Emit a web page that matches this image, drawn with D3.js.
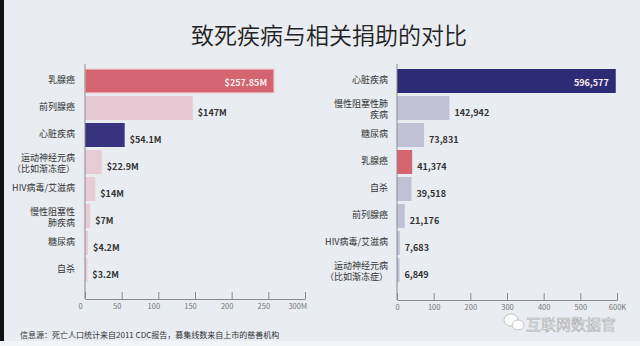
<!DOCTYPE html>
<html><head><meta charset="utf-8">
<script src="https://cdn.jsdelivr.net/npm/d3@7"></script>
<style>
html,body{margin:0;padding:0;background:#e9ecf1;}
svg{display:block;}
text{font-family:"Noto Sans CJK SC","Noto Sans",sans-serif;}
</style></head>
<body>
<svg id="c" width="640" height="346"></svg>
<script>
const title = "致死疾病与相关捐助的对比";
const source = "信息源：死亡人口统计来自2011 CDC报告，募集线数来自上市的慈善机构";
const watermark = "互联网数据官";

// Left chart: funding raised (millions USD)
const fundCategories = ["乳腺癌","前列腺癌","心脏疾病","运动神经元病|（比如渐冻症）","HIV病毒/艾滋病","慢性阻塞性|肺疾病","糖尿病","自杀"];
const fundValues = [257.85, 147, 54.1, 22.9, 14, 7, 4.2, 3.2];
const fundLabels = ["$257.85M","$147M","$54.1M","$22.9M","$14M","$7M","$4.2M","$3.2M"];
const fundTicks = [0,50,100,150,200,250,300];
const fundTickLabels = ["0","50","100","150","200","250","300M"];

// Right chart: deaths
const deathCategories = ["心脏疾病","慢性阻塞性肺|疾病","糖尿病","乳腺癌","自杀","前列腺癌","HIV病毒/艾滋病","运动神经元病|（比如渐冻症）"];
const deathValues = [596577, 142942, 73831, 41374, 39518, 21176, 7683, 6849];
const deathTicks = [0,100000,200000,300000,400000,500000,600000];
const deathTickLabels = ["0","100","200","300","400","500","600K"];

const svg = d3.select("#c");
svg.append("rect").attr("width",640).attr("height",346).attr("fill","#e9ecf1");
svg.append("rect").attr("x",0).attr("y",0).attr("width",4).attr("height",346).attr("fill","#111");
svg.append("rect").attr("x",0).attr("y",341).attr("width",640).attr("height",5).attr("fill","#f3f4f7");

svg.append("text").attr("x",329).attr("y",44).attr("text-anchor","middle")
  .attr("font-size",23).attr("font-weight",350).attr("fill","#222").text(title);

function colorFund(c){
  if(c==="乳腺癌") return "#d4646f";
  if(c==="心脏疾病") return "#37337f";
  if(c==="前列腺癌") return "#e6c9d2";
  return "#e8ccd5";
}
function colorDeath(c){
  if(c==="心脏疾病") return "#2e2b76";
  if(c==="乳腺癌") return "#d4646f";
  return "#c1c1d6";
}

function drawChart(cfg){
  const g = svg.append("g");
  const x = d3.scaleLinear().domain(cfg.domain).range([cfg.x0, cfg.x1]);
  const y = d3.scaleBand().domain(cfg.cats).range([67.5, 283.5]).paddingInner(1/9).paddingOuter(1/18);
  g.selectAll("rect.bar").data(cfg.cats).join("rect")
    .attr("x", x(0)).attr("y", d=>y(d))
    .attr("width", (d,i)=>x(cfg.vals[i])-x(0))
    .attr("height", y.bandwidth())
    .attr("fill", d=>cfg.color(d))
    .attr("stroke", (d,i)=> i===0 && cfg.stroke ? cfg.stroke : "none")
    .attr("stroke-width", 1.2);
  const ax = d3.axisBottom(x).tickValues(cfg.ticks).tickSize(-7).tickSizeOuter(0)
    .tickFormat((d,i)=>cfg.tickLabels[i]).tickPadding(5);
  const ag = g.append("g").attr("transform",`translate(0,${cfg.yAxis})`).call(ax);
  ag.select(".domain").attr("stroke","#8a8a8a");
  ag.selectAll(".tick line").attr("stroke","#8a8a8a");
  ag.selectAll(".tick text").attr("fill","#777").attr("font-size",7.5)
    .attr("font-family","'Noto Sans',sans-serif")
    .attr("dx", cfg.tickDx);
  if(cfg.lastEnd){
    ag.selectAll(".tick text").filter((d,i)=>i===cfg.ticks.length-1).attr("text-anchor","end").attr("dx",1.5);
  }
  g.append("line").attr("x1",x(0)).attr("x2",x(0)).attr("y1",64).attr("y2",cfg.yAxis)
    .attr("stroke","#8a8a8a").attr("stroke-width",1);
  cfg.cats.forEach((c)=>{
    const parts = c.split("|");
    const cy = y(c)+y.bandwidth()/2;
    const t = g.append("text").attr("x",cfg.labelX).attr("text-anchor","end")
      .attr("font-size",9).attr("fill","#333");
    if(parts.length===1){
      t.attr("y",cy+2).text(parts[0]);
    } else {
      parts.forEach((p,j)=>{
        t.append("tspan").attr("x",cfg.labelX).attr("y",cy-1.5+j*11.5).text(p);
      });
    }
  });
  cfg.cats.forEach((c,i)=>{
    const cy = y(c)+y.bandwidth()/2;
    const xe = x(cfg.vals[i]);
    const inside = i===0;
    g.append("text")
      .attr("x", inside ? xe-7 : xe+5)
      .attr("y", inside ? cy+4.5 : cy+7.5)
      .attr("text-anchor", inside ? "end" : "start")
      .attr("font-family","'Open Sans',sans-serif")
      .attr("font-weight",600).attr("font-size",9)
      .attr("fill", inside ? "#fbeef0" : "#333")
      .text(cfg.valLabels[i]);
  });
}

drawChart({cats:fundCategories, vals:fundValues, valLabels:fundLabels, domain:[0,300],
  x0:85, x1:305, ticks:fundTicks, tickLabels:fundTickLabels, yAxis:299, labelX:75,
  color:colorFund, stroke:"#f1d3da", tickDx:-5, lastEnd:true});

drawChart({cats:deathCategories, vals:deathValues, valLabels:deathValues.map(d3.format(",")), domain:[0,600000],
  x0:397, x1:617, ticks:deathTicks, tickLabels:deathTickLabels, yAxis:300, labelX:388,
  color:colorDeath, stroke:null, tickDx:0, lastEnd:false});

svg.append("text").attr("x",20).attr("y",338).attr("font-size",8).attr("fill","#333").text(source);

// watermark
const wm = svg.append("g");
wm.append("ellipse").attr("cx",511).attr("cy",320).attr("rx",7).attr("ry",6).attr("fill","#fff").attr("stroke","#b5b5b5").attr("stroke-width",0.8);
wm.append("ellipse").attr("cx",518).attr("cy",325).attr("rx",6).attr("ry",5).attr("fill","#fff").attr("stroke","#b5b5b5").attr("stroke-width",0.8);
wm.append("text").attr("x",526).attr("y",330).attr("font-size",15).attr("fill","#f7f8fa")
  .attr("stroke","#b0b0b0").attr("stroke-width",0.6).text(watermark);
</script>
</body></html>
